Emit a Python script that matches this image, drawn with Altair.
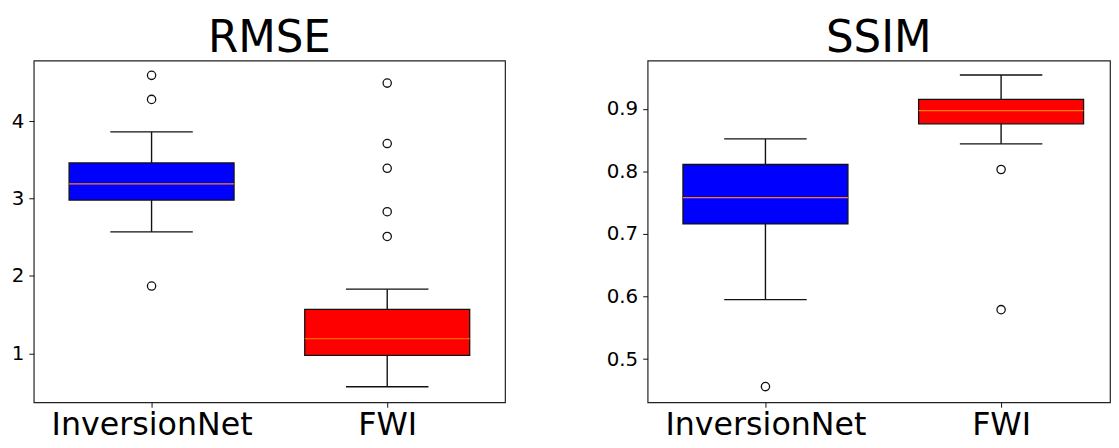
import altair as alt
import pandas as pd

methods = ["InversionNet", "FWI"]
positions = [1, 2]
box_colors = ["#0000ff", "#ff0000"]

rmse_q1 = [2.98, 0.975]
rmse_median = [3.19, 1.19]
rmse_q3 = [3.46, 1.57]
rmse_wlo = [2.57, 0.57]
rmse_whi = [3.86, 1.83]
rmse_outliers = [[4.59, 4.28, 1.87], [4.49, 3.71, 3.39, 2.83, 2.51]]
rmse_ticks = [1, 2, 3, 4]

ssim_q1 = [0.716, 0.876]
ssim_median = [0.758, 0.897]
ssim_q3 = [0.811, 0.915]
ssim_wlo = [0.595, 0.844]
ssim_whi = [0.852, 0.954]
ssim_outliers = [[0.456], [0.803, 0.579]]
ssim_ticks = [0.5, 0.6, 0.7, 0.8, 0.9]

FONT = "DejaVu Sans"
LINE = "#111111"


def panel(title, q1, med, q3, wlo, whi, outliers, domain, ticks, fmt,
          width, xmax):
    box_df = pd.DataFrame({
        "method": methods, "pos": positions, "q1": q1, "median": med,
        "q3": q3, "wlo": wlo, "whi": whi, "color": box_colors,
    })
    out_df = pd.DataFrame([
        {"method": m, "pos": p, "value": v}
        for m, p, vals in zip(methods, positions, outliers) for v in vals
    ])
    label_expr = " : ".join(
        f"datum.value == {p} ? '{m}'" for p, m in zip(positions, methods)
    ) + " : ''"
    xs = alt.Scale(domain=[0.5, xmax], nice=False, zero=False)
    ys = alt.Scale(domain=domain, nice=False, zero=False)
    xaxis = alt.Axis(values=positions, labelExpr=label_expr, title=None,
                     labelFontSize=32, labelFont=FONT, labelColor="black",
                     labelLimit=0, tickSize=5, tickColor=LINE, labelPadding=3,
                     domain=False, grid=False)
    yaxis = alt.Axis(values=ticks, format=fmt, title=None,
                     labelFontSize=20, labelFont=FONT, labelColor="black",
                     labelLimit=0, tickSize=5, tickColor=LINE, labelPadding=5,
                     domain=False, grid=False)

    def X(f):
        return alt.X(f, scale=xs, axis=xaxis)

    def Y(f):
        return alt.Y(f, scale=ys, axis=yaxis)

    base = alt.Chart(box_df).transform_calculate(
        left="datum.pos - 0.35", right="datum.pos + 0.35",
        cl="datum.pos - 0.175", cr="datum.pos + 0.175",
    )
    whisk_lo = base.mark_rule(color=LINE, strokeWidth=1.4).encode(
        x=X("pos:Q"), y=Y("wlo:Q"), y2="q1:Q")
    whisk_hi = base.mark_rule(color=LINE, strokeWidth=1.4).encode(
        x=X("pos:Q"), y=Y("q3:Q"), y2="whi:Q")
    cap_lo = base.mark_rule(color=LINE, strokeWidth=1.4).encode(
        x=X("cl:Q"), x2="cr:Q", y=Y("wlo:Q"))
    cap_hi = base.mark_rule(color=LINE, strokeWidth=1.4).encode(
        x=X("cl:Q"), x2="cr:Q", y=Y("whi:Q"))
    box = base.mark_bar(stroke=LINE, strokeWidth=1.3, opacity=1).encode(
        x=X("left:Q"), x2="right:Q", y=Y("q1:Q"), y2="q3:Q",
        color=alt.Color("color:N", scale=None))
    med_line = base.mark_rule(color="#ff7f0e", strokeWidth=1.2).encode(
        x=X("left:Q"), x2="right:Q", y=Y("median:Q"))
    pts = alt.Chart(out_df).mark_point(
        shape="circle", filled=False, color=LINE, size=70, strokeWidth=1.3,
        opacity=1).encode(x=X("pos:Q"), y=Y("value:Q"))
    return alt.layer(whisk_lo, whisk_hi, cap_lo, cap_hi, box, med_line, pts).properties(
        width=width, height=345,
        title=alt.Title(title, fontSize=44, font=FONT, fontWeight="normal",
                        color="black", offset=0),
    )


left = panel("RMSE", rmse_q1, rmse_median, rmse_q3, rmse_wlo, rmse_whi,
             rmse_outliers, [0.37, 4.78], rmse_ticks, "d", 476, 2.5)
right = panel("SSIM", ssim_q1, ssim_median, ssim_q3, ssim_wlo, ssim_whi,
              ssim_outliers, [0.431, 0.977], ssim_ticks, ".1f",
              467, 0.5 + 467 / 238)

chart = alt.hconcat(left, right, spacing=100).properties(
    padding={"left": 2, "top": 6, "right": 0, "bottom": 0},
    background="white",
).configure_view(stroke="#222222", strokeWidth=1.2)

chart.save("out.html", embed_options={"renderer": "svg", "actions": False})
